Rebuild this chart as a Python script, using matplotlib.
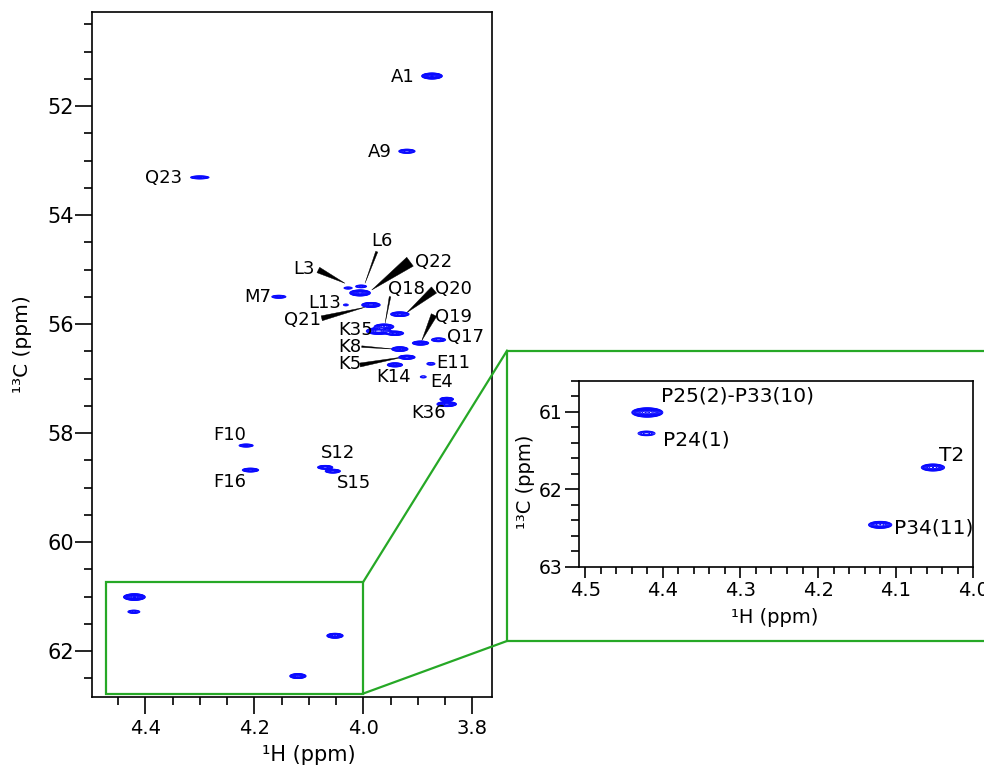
import numpy as np
import matplotlib
matplotlib.use("Agg")
import matplotlib.pyplot as plt
from matplotlib.patches import Rectangle, Polygon
from matplotlib.lines import Line2D
from matplotlib.ticker import MultipleLocator

plt.rcParams['font.family'] = ['DejaVu Sans']

# ---------------- data: cross peaks (1H ppm, 13C ppm, relative intensity) ----------------
peak_names = ["A1", "A9", "Q23", "M7", "L3", "L6", "Q22", "L13", "Q21", "Q20",
              "Q18", "K35", "K35b", "Q19", "Q17", "K8", "K5", "K14", "E11", "E4",
              "K36a", "K36b", "F10", "F16", "S12", "S15",
              "P25(2)-P33(10)", "P24(1)", "T2", "P34(11)"]
peak_h = [3.874, 3.920, 4.300, 4.155, 4.028, 4.004, 4.006, 4.032, 3.986, 3.933,
          3.962, 3.972, 3.942, 3.895, 3.862, 3.933, 3.920, 3.942, 3.876, 3.890,
          3.847, 3.847, 4.215, 4.207, 4.070, 4.056,
          4.420, 4.421, 4.052, 4.120]
peak_c = [51.45, 52.83, 53.31, 55.50, 55.34, 55.31, 55.43, 55.65, 55.65, 55.82,
          56.05, 56.13, 56.17, 56.35, 56.29, 56.46, 56.61, 56.75, 56.73, 56.97,
          57.38, 57.47, 58.23, 58.68, 58.63, 58.70,
          61.01, 61.28, 61.72, 62.46]
peak_int = [30, 8, 5, 4, 2, 3, 25, 1.6, 15, 10,
            15, 20, 10, 10, 6, 12, 15, 10, 2.5, 1.8,
            12, 20, 5, 8, 8, 8,
            40, 4, 15, 15]
# apparent line widths (ppm) of the outermost contour
peak_wh = [0.038, 0.030, 0.034, 0.026, 0.015, 0.020, 0.038, 0.009, 0.034, 0.034,
           0.036, 0.045, 0.032, 0.030, 0.026, 0.030, 0.030, 0.028, 0.015, 0.011,
           0.025, 0.036, 0.026, 0.030, 0.028, 0.028,
           0.040, 0.022, 0.030, 0.030]
peak_wc = [0.11, 0.075, 0.055, 0.055, 0.04, 0.05, 0.11, 0.035, 0.09, 0.085,
           0.10, 0.12, 0.08, 0.075, 0.07, 0.085, 0.075, 0.075, 0.05, 0.04,
           0.07, 0.09, 0.055, 0.07, 0.07, 0.07,
           0.12, 0.06, 0.09, 0.09]

# ---------------- labels (main panel) ----------------
main_labels = ["A1", "A9", "Q23", "M7", "L6", "L3", "Q22", "L13", "Q21", "Q18", "Q20",
               "K35", "Q19", "Q17", "K8", "K5", "E11", "K14", "E4", "K36",
               "F10", "F16", "S12", "S15"]
main_label_xy = [(3.905, 51.47, 'right'), (3.947, 52.84, 'right'), (4.333, 53.32, 'right'),
                 (4.169, 55.50, 'right'), (3.966, 54.47, 'center'), (4.109, 54.99, 'center'),
                 (3.872, 54.86, 'center'), (4.070, 55.62, 'center'), (4.111, 55.93, 'center'),
                 (3.920, 55.36, 'center'), (3.835, 55.36, 'center'), (4.015, 56.11, 'center'),
                 (3.835, 55.87, 'center'), (3.813, 56.24, 'center'), (4.024, 56.42, 'center'),
                 (4.024, 56.73, 'center'), (3.835, 56.72, 'center'), (3.945, 56.97, 'center'),
                 (3.856, 57.06, 'center'), (3.881, 57.64, 'center'), (4.245, 58.04, 'center'),
                 (4.245, 58.89, 'center'), (4.046, 58.36, 'center'), (4.018, 58.92, 'center')]
# leader wedges: (label-end H, C), (peak-end H, C), wide-end width px
leaders = [((4.0826, 55.009), (4.0336, 55.253), 6),
           ((3.9754, 54.673), (3.9969, 55.253), 2.2),
           ((3.9143, 54.857), (3.9846, 55.376), 11),
           ((4.0763, 55.895), (3.9969, 55.693), 5),
           ((3.9510, 55.499), (3.9600, 55.987), 1.6),
           ((3.8703, 55.376), (3.9204, 55.793), 8),
           ((3.8703, 55.835), (3.8928, 56.306), 6),
           ((4.0029, 56.415), (3.9418, 56.462), 1.6),
           ((4.0060, 56.752), (3.9235, 56.600), 4)]

inset_labels = ["P25(2)-P33(10)", "P24(1)", "T2", "P34(11)"]
inset_label_xy = [(4.402, 60.797, 'left'), (4.400, 61.365, 'left'),
                  (4.028, 61.559, 'center'), (4.102, 62.505, 'left')]

# ---------------- synthetic spectrum from the peak list ----------------
H = np.linspace(3.70, 4.56, 1720)
C = np.linspace(50.0, 63.2, 2640)
Z = np.zeros((C.size, H.size))
for h, c, a, wh, wc in zip(peak_h, peak_c, peak_int, peak_wh, peak_wc):
    k = np.sqrt(2 * np.log(a))
    sh = wh / 2 / k
    sc = wc / 2 / k
    gh = np.exp(-0.5 * ((H - h) / sh) ** 2)
    gc = np.exp(-0.5 * ((C - c) / sc) ** 2)
    Z += a * np.outer(gc, gh)
levels = 1.0 * 1.35 ** np.arange(0, 14)

BLUE = '#0a0aff'
GREEN = '#26a826'

fig = plt.figure(figsize=(9.84, 7.69), dpi=100)
W, Hh = 984.0, 769.0

# ---------------- main panel ----------------
ax = fig.add_axes([92 / W, 1 - 697 / Hh, 400 / W, 685 / Hh])
ax.contour(H, C, Z, levels=levels, colors=BLUE, linewidths=0.7)
ax.set_xlim(4.4978, 3.7639)
ax.set_ylim(62.844, 50.275)
ax.xaxis.set_major_locator(MultipleLocator(0.2))
ax.xaxis.set_minor_locator(MultipleLocator(0.05))
ax.yaxis.set_major_locator(MultipleLocator(2))
ax.yaxis.set_minor_locator(MultipleLocator(0.5))
ax.xaxis.set_major_formatter(plt.FuncFormatter(lambda v, p: f"{v:.1f}"))
ax.yaxis.set_major_formatter(plt.FuncFormatter(lambda v, p: f"{v:.0f}"))
for s in ax.spines.values():
    s.set_linewidth(1.2)
ax.tick_params(which='major', direction='out', length=12, width=1.2)
ax.tick_params(which='minor', direction='out', length=6, width=1.2)
ax.tick_params(axis='x', labelsize=14, pad=4)
ax.tick_params(axis='y', labelsize=15, pad=1)
ax.set_xlabel("¹H (ppm)", fontsize=15)
ax.set_ylabel("¹³C (ppm)", fontsize=14.5)
ax.xaxis.set_label_coords(0.5425, -0.070)
ax.yaxis.set_label_coords(-0.15, 0.515)

for name, (x, y, ha) in zip(main_labels, main_label_xy):
    ax.text(x, y, name, ha=ha, va='center', fontsize=13, color='black')

fig.canvas.draw()
to_disp = ax.transData.transform
to_data = ax.transData.inverted().transform
for (p0, p1, w) in leaders:
    a0 = to_disp(p0)
    a1 = to_disp(p1)
    d = a1 - a0
    n = np.array([-d[1], d[0]]) / np.hypot(*d)
    pts = np.array([a0 + n * w / 2, a0 - n * w / 2, a1])
    ax.add_patch(Polygon(to_data(pts), closed=True, facecolor='black',
                         edgecolor='black', linewidth=0.3))

# zoom box in main panel
box_h0, box_h1, box_c0, box_c1 = 4.472, 4.0, 60.73, 62.78
ax.add_patch(Rectangle((box_h1, box_c0), box_h0 - box_h1, box_c1 - box_c0,
                       fill=False, edgecolor=GREEN, linewidth=1.6))

# ---------------- inset ----------------
axi = fig.add_axes([579 / W, 1 - 566.7 / Hh, 394.3 / W, 186 / Hh])
axi.contour(H, C, Z, levels=levels, colors=BLUE, linewidths=0.7)
axi.set_xlim(4.508, 4.0)
axi.set_ylim(63.0, 60.6)
axi.xaxis.set_major_locator(MultipleLocator(0.1))
axi.xaxis.set_minor_locator(MultipleLocator(0.02))
axi.yaxis.set_major_locator(MultipleLocator(1))
axi.yaxis.set_minor_locator(MultipleLocator(0.2))
axi.xaxis.set_major_formatter(plt.FuncFormatter(lambda v, p: f"{v:.1f}"))
axi.yaxis.set_major_formatter(plt.FuncFormatter(lambda v, p: f"{v:.0f}"))
for s in axi.spines.values():
    s.set_linewidth(1.2)
axi.tick_params(axis='y', which='major', direction='out', length=10, width=1.2)
axi.tick_params(axis='y', which='minor', direction='out', length=6, width=1.2)
axi.tick_params(axis='x', which='major', direction='out', length=8, width=1.2)
axi.tick_params(axis='x', which='minor', direction='out', length=5, width=1.2)
axi.tick_params(axis='x', labelsize=14, pad=2)
axi.tick_params(axis='y', labelsize=13.5, pad=2)
axi.set_xlabel("¹H (ppm)", fontsize=14)
axi.set_ylabel("¹³C (ppm)", fontsize=14)
axi.xaxis.set_label_coords(0.497, -0.222)
axi.yaxis.set_label_coords(-0.112, 0.457)
for name, (x, y, ha) in zip(inset_labels, inset_label_xy):
    axi.text(x, y, name, ha=ha, va='center', fontsize=14.5, color='black')

# ---------------- green connector box (figure coordinates) ----------------
fig.canvas.draw()
fig_inv = fig.transFigure.inverted()
tl = fig_inv.transform(ax.transData.transform((box_h1, box_c0)))
bl = fig_inv.transform(ax.transData.transform((box_h1, box_c1)))
ob_left, ob_top, ob_bottom, ob_right = 507 / W, 1 - 350.7 / Hh, 1 - 641 / Hh, 1.02
fig.add_artist(Line2D([tl[0], ob_left], [tl[1], ob_top], color=GREEN, lw=1.6))
fig.add_artist(Line2D([bl[0], ob_left], [bl[1], ob_bottom], color=GREEN, lw=1.6))
fig.add_artist(Line2D([ob_right, ob_left, ob_left, ob_right],
                      [ob_top, ob_top, ob_bottom, ob_bottom], color=GREEN, lw=1.6))

fig.savefig("out.png", dpi=100)
